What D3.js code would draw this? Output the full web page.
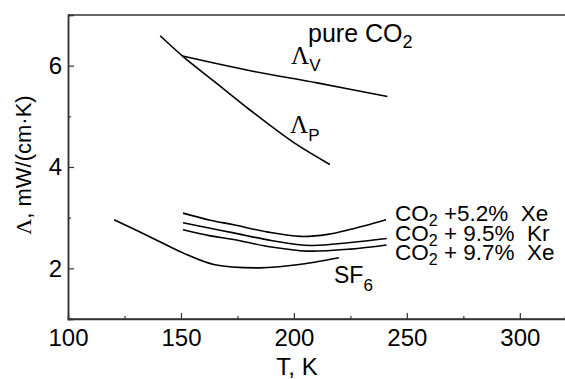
<!DOCTYPE html>
<html><head><meta charset="utf-8">
<script src="https://cdn.jsdelivr.net/npm/d3@7"></script>
<style>body{margin:0;background:#fff}svg{display:block}</style>
</head><body>
<svg id="c" width="565" height="379"></svg>
<script>
// Data (T in K, Λ in mW/(cm·K))
const lamP = [[140.8,6.59],[150.7,6.19],[165,5.68],[180.7,5.12],[200,4.48],[215.9,4.05]];
const lamV = [[150.7,6.19],[180.7,5.90],[210.3,5.66],[241.4,5.39]];
const sf6 = [[120.4,2.96],[136.4,2.62],[151.1,2.30],[165,2.07],[185.2,2.01],[201.4,2.07],[219.9,2.21]];
const xe52 = [[150.9,3.09],[163,2.95],[173.3,2.86],[188,2.72],[202.9,2.63],[215,2.67],[225.1,2.77],[240.8,2.96]];
const kr95 = [[150.9,2.90],[163,2.79],[173.3,2.70],[190,2.55],[207.5,2.45],[225.1,2.51],[241.1,2.59]];
const xe97 = [[150.9,2.76],[163,2.64],[173.3,2.57],[190,2.42],[205.9,2.34],[225.1,2.38],[241,2.46]];
const xTicks = [100,150,200,250,300];
const xMinor = [125,175,225,275];
const yTicks = [2,4,6];
const yMinor = [3,5];

const svg = d3.select('#c');
const L=68, R=565, T=15, B=319;
const x = d3.scaleLinear().domain([100,320]).range([L,R]);
const y = d3.scaleLinear().domain([1,7]).range([B,T]);
const axisColor = '#333';
const sans = 'Liberation Sans, Arial, sans-serif';
const serif = 'Liberation Serif, Times New Roman, serif';

// axes
const gx = svg.append('g').attr('transform',`translate(0,${B})`)
  .call(d3.axisBottom(x).tickValues(xTicks).tickSize(-6).tickPadding(10).tickFormat(d3.format('d')));
const gxm = svg.append('g').attr('transform',`translate(0,${B})`)
  .call(d3.axisBottom(x).tickValues(xMinor).tickSize(-3).tickFormat(''));
const gy = svg.append('g').attr('transform',`translate(${L},0)`)
  .call(d3.axisLeft(y).tickValues(yTicks).tickSize(-6).tickPadding(6).tickFormat(d3.format('d')));
const gym = svg.append('g').attr('transform',`translate(${L},0)`)
  .call(d3.axisLeft(y).tickValues(yMinor).tickSize(-3).tickFormat(''));
[gx,gxm,gy,gym].forEach(g=>{
  g.selectAll('.domain').attr('stroke',axisColor).attr('stroke-width',1.5);
  g.selectAll('line').attr('stroke',axisColor).attr('stroke-width',1.2);
  g.selectAll('text').attr('font-family',sans).attr('font-size',24).attr('fill','#000');
});
gx.selectAll('.domain').attr('d',`M${L},0H${R}`);
// top border
svg.append('line').attr('x1',L).attr('x2',R).attr('y1',T).attr('y2',T)
  .attr('stroke',axisColor).attr('stroke-width',1.5);

// axis titles
svg.append('text').attr('x',297).attr('y',375).attr('text-anchor','middle')
  .attr('font-family',sans).attr('font-size',24).text('T, K');
const yl = svg.append('text').attr('transform',`translate(31,165) rotate(-90)`)
  .attr('text-anchor','middle').attr('font-family',sans).attr('font-size',22);
yl.append('tspan').attr('font-family',serif).text('Λ');
yl.append('tspan').text(', mW/(cm·K)');

// curves
const line = d3.line().x(d=>x(d[0])).y(d=>y(d[1])).curve(d3.curveCatmullRom.alpha(0.5));
[lamP,lamV,sf6,xe52,kr95,xe97].forEach(s=>{
  svg.append('path').attr('d',line(s)).attr('fill','none').attr('stroke','#000').attr('stroke-width',1.6);
});

// labels
function sub(xp,yp,main,subTxt,mainFont,size,subSize,dy){
  const t = svg.append('text').attr('x',xp).attr('y',yp).attr('font-size',size).attr('font-family',mainFont);
  t.append('tspan').text(main);
  t.append('tspan').attr('font-family',sans).attr('font-size',subSize).attr('dy',dy).text(subTxt);
  return t;
}
sub(308,42,'pure CO','2',sans,25,18,6);
sub(291,64,'Λ','V',serif,25,17,7);
sub(290,133,'Λ','P',serif,25,17,8);
sub(334,283,'SF','6',sans,23,17,8);
const rows = [['+5.2%','Xe',221],['+ 9.5%','Kr',240.5],['+ 9.7%','Xe',260]];
rows.forEach(r=>{
  const t = svg.append('text').attr('x',395).attr('y',r[2]).attr('font-family',sans).attr('font-size',22.5)
    .attr('xml:space','preserve');
  t.append('tspan').text('CO');
  t.append('tspan').attr('font-size',16).attr('dy',5).text('2');
  t.append('tspan').attr('dy',-5).text(' '+r[0]+'  '+r[1]);
});
</script>
</body></html>
